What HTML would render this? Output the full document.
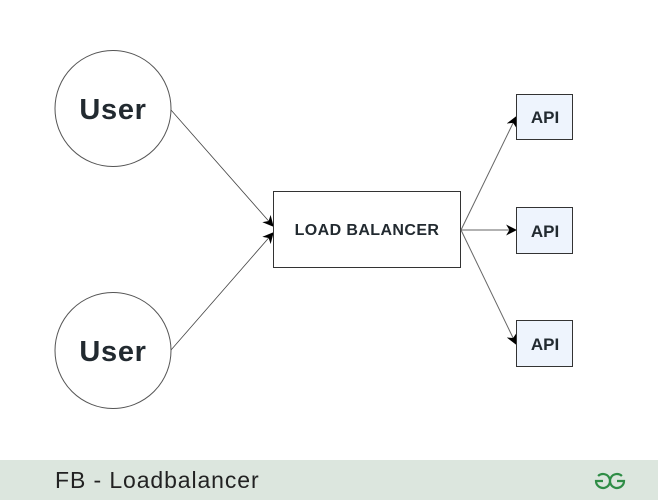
<!DOCTYPE html>
<html><head><meta charset="utf-8"><style>
html,body{margin:0;padding:0;background:#fff;}
svg{display:block}
</style></head><body>
<svg width="658" height="500" viewBox="0 0 658 500" xmlns="http://www.w3.org/2000/svg" font-family="Liberation Sans, sans-serif">
<defs>
<marker id="a" viewBox="0 0 10 10" refX="9" refY="5" markerWidth="11" markerHeight="11" orient="auto" markerUnits="userSpaceOnUse">
<path d="M0,0 L10,5 L0,10 L3,5 z" fill="#000"/>
</marker>
</defs>
<rect width="658" height="500" fill="#fff"/>
<circle cx="113" cy="108.5" r="58" fill="#fff" stroke="#555" stroke-width="1"/>
<circle cx="113" cy="350.5" r="58" fill="#fff" stroke="#555" stroke-width="1"/>
<text x="113" y="119" text-anchor="middle" font-size="29" font-weight="bold" fill="#222a30" letter-spacing="0.7">User</text>
<text x="113" y="361" text-anchor="middle" font-size="29" font-weight="bold" fill="#222a30" letter-spacing="0.7">User</text>
<line x1="171" y1="110" x2="273" y2="226" stroke="#444" stroke-width="0.8" marker-end="url(#a)"/>
<line x1="171" y1="350" x2="273" y2="233" stroke="#444" stroke-width="0.8" marker-end="url(#a)"/>
<rect x="273.5" y="191.5" width="187" height="76" fill="#fff" stroke="#333"/>
<text x="367" y="235" text-anchor="middle" font-size="16" font-weight="bold" fill="#222a30" letter-spacing="0.4">LOAD BALANCER</text>
<line x1="461" y1="230" x2="516" y2="117" stroke="#666" stroke-width="1" marker-end="url(#a)"/>
<line x1="461" y1="230" x2="516" y2="230" stroke="#666" stroke-width="1" marker-end="url(#a)"/>
<line x1="461" y1="230" x2="516" y2="344" stroke="#666" stroke-width="1" marker-end="url(#a)"/>
<rect x="516.5" y="94.5" width="56" height="45" fill="#eef4fd" stroke="#333"/>
<rect x="516.5" y="207.5" width="56" height="46" fill="#eef4fd" stroke="#333"/>
<rect x="516.5" y="320.5" width="56" height="46" fill="#eef4fd" stroke="#333"/>
<text x="545" y="123" text-anchor="middle" font-size="17" font-weight="bold" fill="#222a30">API</text>
<text x="545" y="237" text-anchor="middle" font-size="17" font-weight="bold" fill="#222a30">API</text>
<text x="545" y="350" text-anchor="middle" font-size="17" font-weight="bold" fill="#222a30">API</text>
<rect x="0" y="460" width="658" height="40" fill="#dce6de"/>
<text x="55" y="488" font-size="23" fill="#222" letter-spacing="0.9">FB - Loadbalancer</text>
<g fill="none" stroke="#2f8d46" stroke-width="2.2">
<path d="M621.9,476 A7,7 0 1 0 624,481 H617"/>
<path d="M598.1,476 A7,7 0 1 1 596,481 H603"/>
</g>
</svg>
</body></html>
